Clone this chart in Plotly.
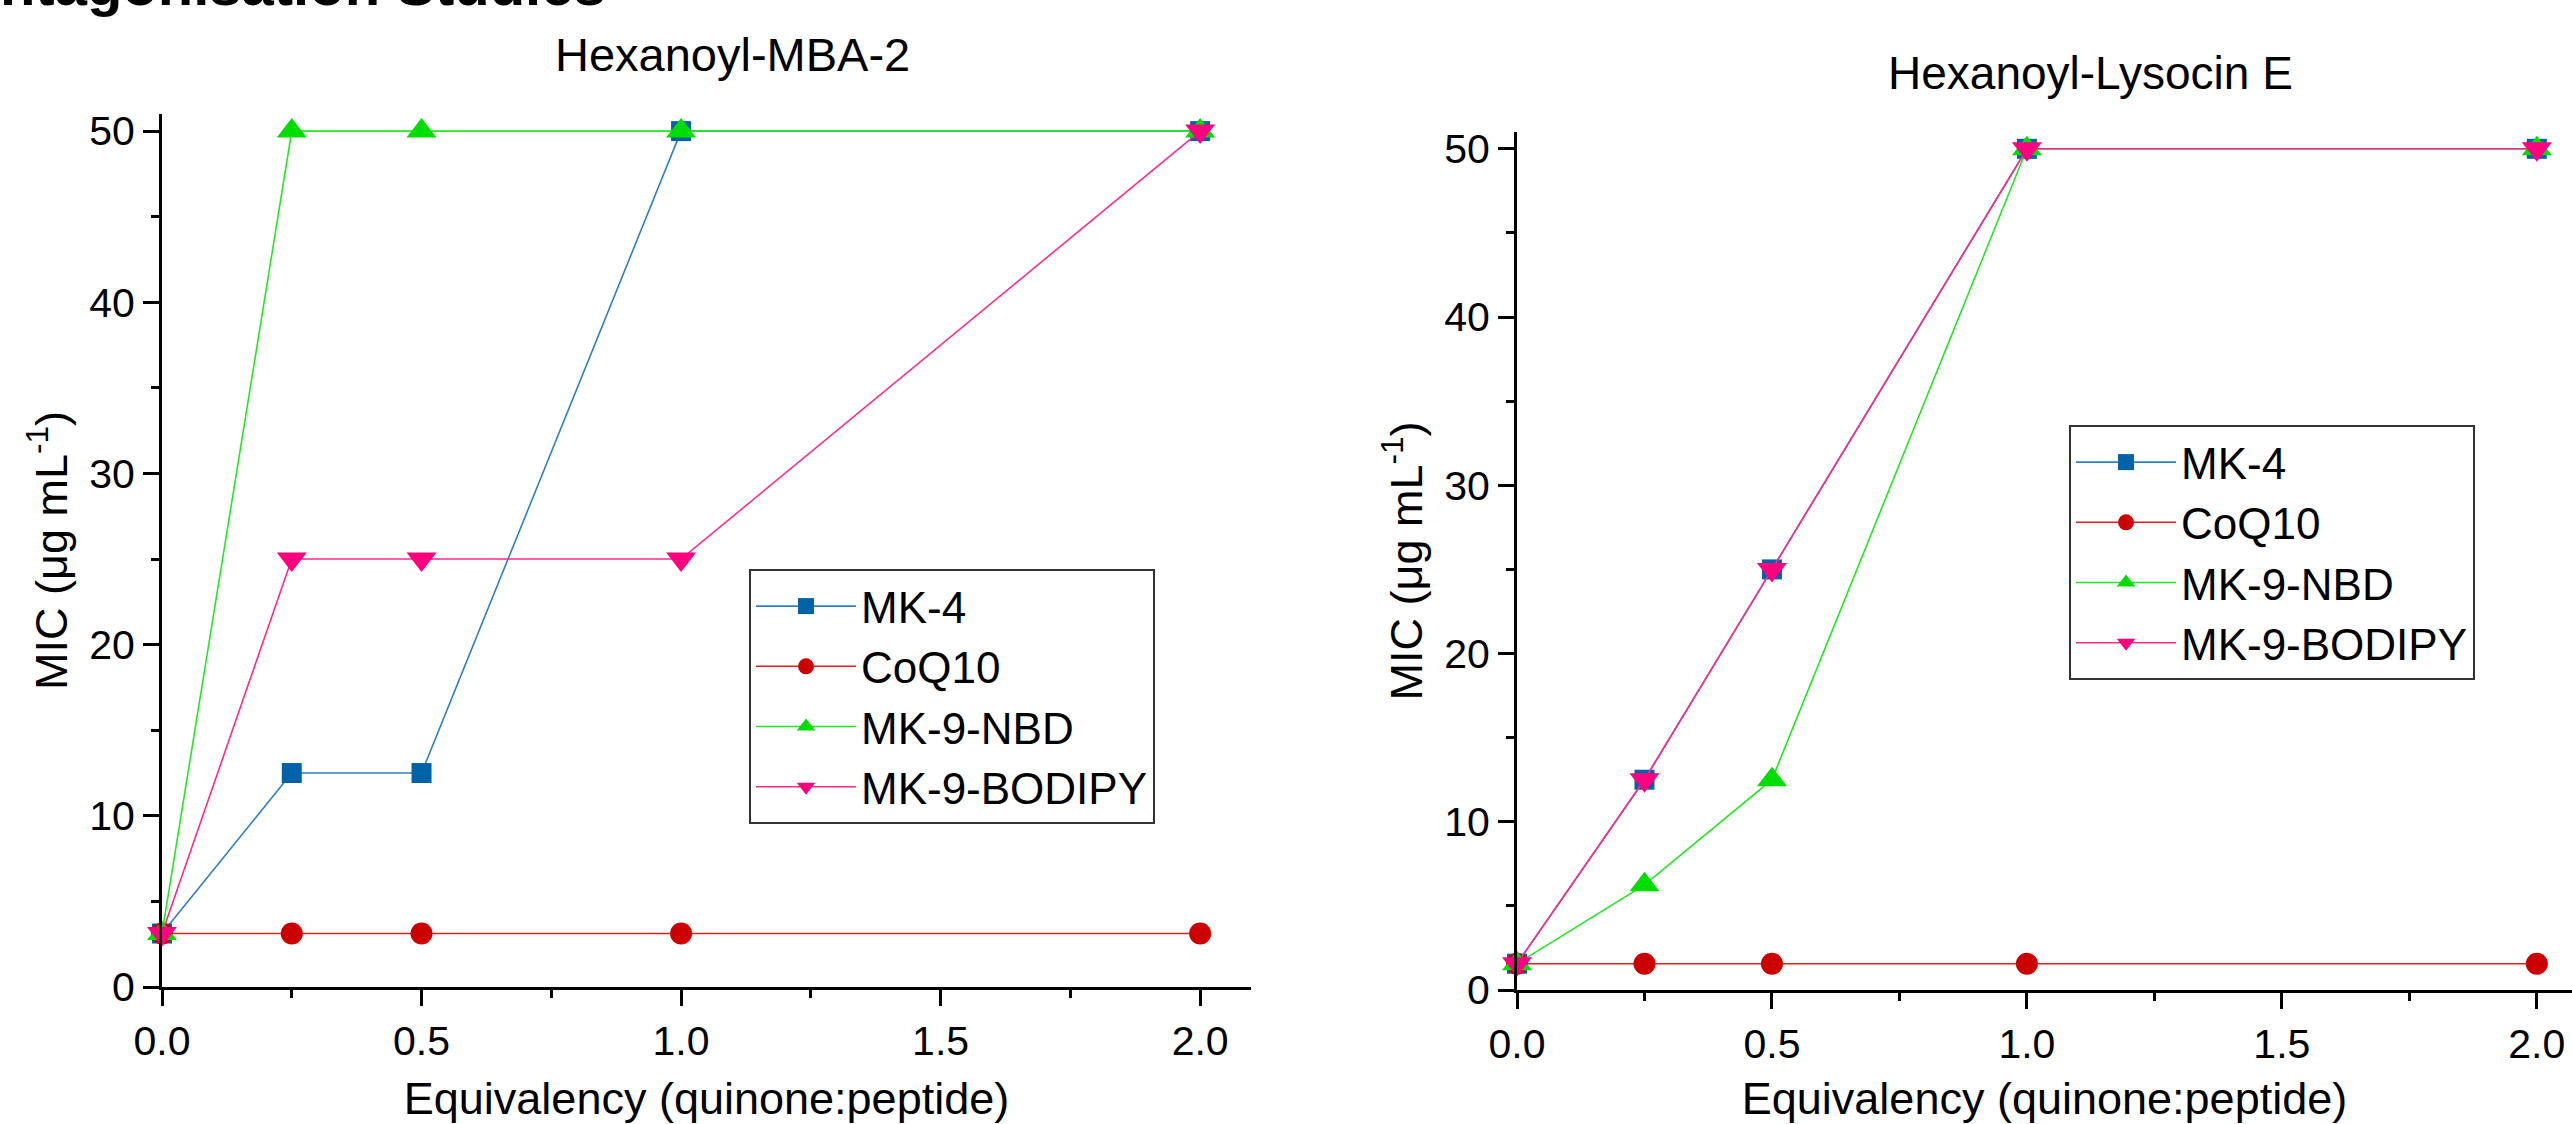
import plotly.graph_objects as go

W, H = 2572, 1124

x_equiv = [0, 0.25, 0.5, 1.0, 2.0]
series_names = ["MK-4", "CoQ10", "MK-9-NBD", "MK-9-BODIPY"]

# Hexanoyl-MBA-2
mba_mk4 = [3.125, 12.5, 12.5, 50, 50]
mba_coq10 = [3.125, 3.125, 3.125, 3.125, 3.125]
mba_nbd = [3.125, 50, 50, 50, 50]
mba_bodipy = [3.125, 25, 25, 25, 50]

# Hexanoyl-Lysocin E
lys_mk4 = [1.5625, 12.5, 25, 50, 50]
lys_coq10 = [1.5625, 1.5625, 1.5625, 1.5625, 1.5625]
lys_nbd = [1.5625, 6.25, 12.5, 50, 50]
lys_bodipy = [1.5625, 12.5, 25, 50, 50]

x_ticks = [0, 0.5, 1.0, 1.5, 2.0]
y_ticks = [0, 10, 20, 30, 40, 50]

marker_colors = ["#0063A8", "#CC0000", "#00DD00", "#FF0080"]
line_colors = ["#2E7FC0", "#E02020", "#22E822", "#FF2A90"]
symbols = ["square", "circle", "triangle-up", "triangle-down"]
marker_sizes = [20, 22, 26, 26]

FONT = "Liberation Sans, Arial, sans-serif"

fig = go.Figure()

def add_series(ys_list, xa, ya, legend):
    for name, ys, mc, lc, sym, ms in zip(series_names, ys_list, marker_colors, line_colors, symbols, marker_sizes):
        fig.add_trace(go.Scatter(
            x=x_equiv, y=ys, name=name, mode="lines+markers",
            xaxis=xa, yaxis=ya, legend=legend, cliponaxis=False,
            line=dict(color=lc, width=1.6),
            marker=dict(symbol=sym, size=ms, color=mc, line=dict(width=0)),
        ))

add_series([mba_mk4, mba_coq10, mba_nbd, mba_bodipy], "x", "y", "legend")
add_series([lys_mk4, lys_coq10, lys_nbd, lys_bodipy], "x2", "y2", "legend2")

def px_x(p):
    return p / W

def px_y(p):
    return 1 - p / H

axis_common = dict(
    automargin=False,
    showline=True, linewidth=3, linecolor="black", mirror=False,
    ticks="outside", ticklen=16, tickwidth=3, tickcolor="black",
    showgrid=False, zeroline=False,
    tickfont=dict(family=FONT, size=41, color="black"),
    title_font=dict(family=FONT, size=45, color="black"),
)

xa = dict(axis_common, tickvals=x_ticks, tickformat=".1f",
          minor=dict(ticks="outside", ticklen=8, tickwidth=3, tickcolor="black", dtick=0.25, tick0=0),
          title_text="Equivalency (quinone:peptide)", title_standoff=28)
ya = dict(axis_common, tickvals=y_ticks,
          minor=dict(ticks="outside", ticklen=8, tickwidth=3, tickcolor="black", dtick=5, tick0=0),
          title_text="MIC (\u03bcg mL<sup>-1</sup>)", title_standoff=8)

legend_common = dict(xanchor="left", yanchor="top",
                     bordercolor="#333333", borderwidth=2, bgcolor="white",
                     font=dict(family=FONT, size=44, color="black"), itemwidth=100,
                     tracegroupgap=0)

fig.update_layout(
    template="none",
    width=W, height=H,
    margin=dict(l=0, r=0, t=0, b=0, autoexpand=False),
    paper_bgcolor="white", plot_bgcolor="white",
    font=dict(family=FONT, color="black"),
    xaxis=dict(xa, domain=[px_x(162), px_x(1251)], range=[0, 2.098], anchor="y"),
    yaxis=dict(ya, domain=[px_y(987), px_y(114)], range=[0, 51], anchor="x"),
    xaxis2=dict(xa, domain=[px_x(1517), 1.0], range=[0, 2.069], anchor="y2"),
    yaxis2=dict(ya, domain=[px_y(990), px_y(132)], range=[0, 51], anchor="x2"),
    legend=dict(legend_common, x=px_x(749), y=px_y(569)),
    legend2=dict(legend_common, x=px_x(2069), y=px_y(425)),
    showlegend=True,
)

fig.add_annotation(text="Hexanoyl-MBA-2", xref="paper", yref="paper",
                   x=px_x(732), y=px_y(54), xanchor="center", yanchor="middle",
                   showarrow=False, font=dict(family=FONT, size=47, color="black"))
fig.add_annotation(text="Hexanoyl-Lysocin E", xref="paper", yref="paper",
                   x=px_x(2090), y=px_y(73), xanchor="center", yanchor="middle",
                   showarrow=False, font=dict(family=FONT, size=46, color="black"))
fig.add_annotation(text="<b>Antagonisation Studies</b>", xref="paper", yref="paper",
                   x=px_x(-44), y=px_y(-16), xanchor="left", yanchor="middle",
                   showarrow=False, font=dict(family=FONT, size=58, color="black"))

fig.write_html("out.html",
               config={"displayModeBar": False},
               post_script="document.body.style.margin='0';document.body.style.overflow='hidden';")
